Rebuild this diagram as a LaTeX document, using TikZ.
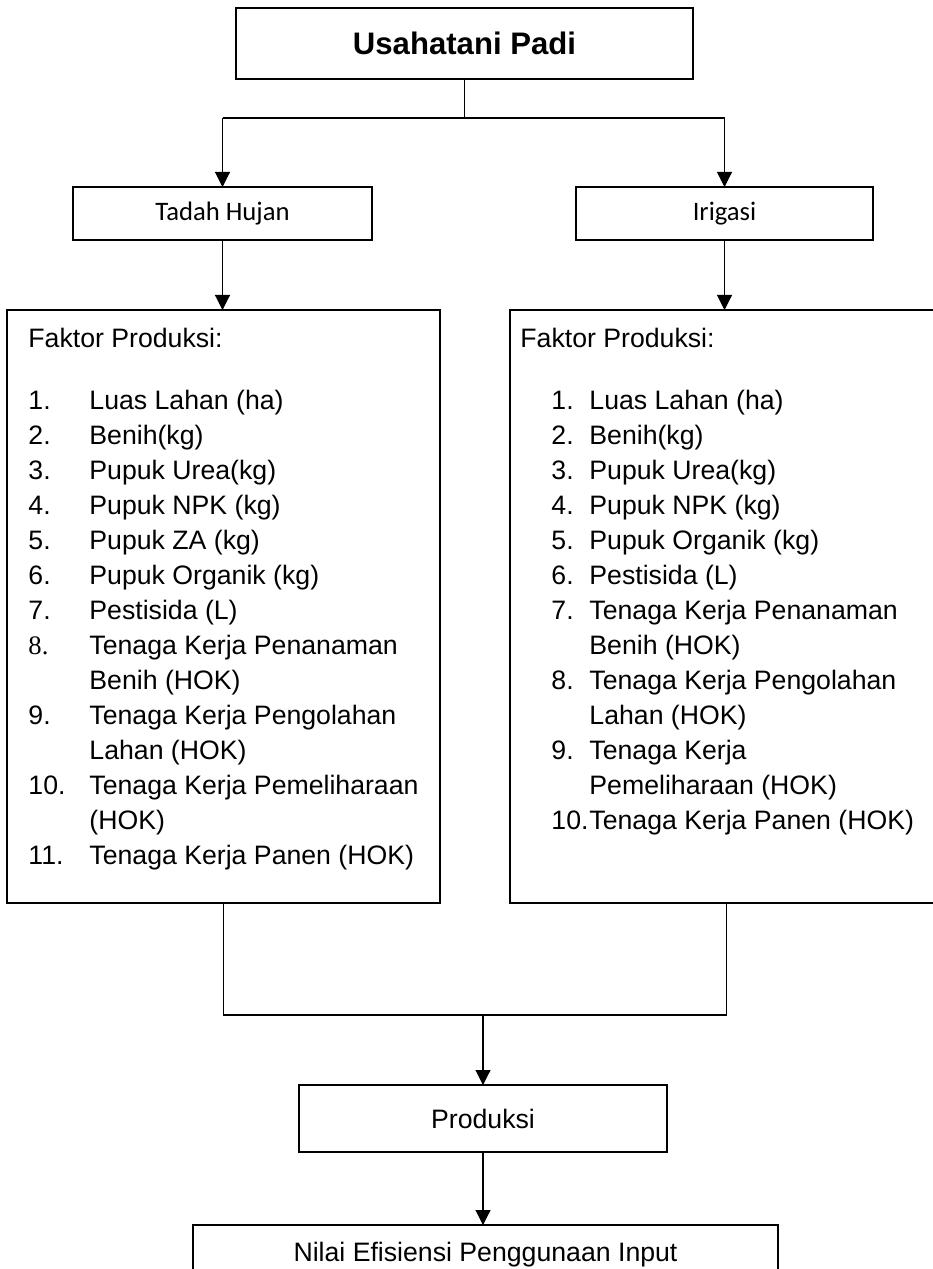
\documentclass[tikz,border=0pt]{standalone}
\usepackage{fontspec}
\setmainfont{Liberation Sans}
\newfontfamily\calibrifont{Carlito}
\newfontfamily\timesfont{Liberation Serif}
\usetikzlibrary{positioning,calc,arrows.meta}
\newdimen\px \px=0.45pt
\newcommand{\listsize}{\fontsize{12}{15.75}\selectfont}

\begin{document}
\begin{tikzpicture}[x=0.45pt,y=-0.45pt,every node/.style={font=\listsize},
				block/.style={draw,rectangle,line width=0.9pt,inner sep=0pt,outer sep=0pt},
				line/.style={line width=0.5pt},
				arrow/.style={line,-{Triangle[length=6.75pt,width=6.75pt]}}]
				\useasboundingbox (0,0) rectangle (932,1269);
				\node (usahatani) [block,line width=1.1pt,minimum width=457\px,minimum height=71\px,
					font=\bfseries\fontsize{14}{17}\selectfont] at (464.5,43.5) {Usahatani Padi};
				\node (tadah)     [block,minimum width=299\px,minimum height=53\px,font=\calibrifont\listsize] at (222.5,213.5) {Tadah Hujan};
				\node (irigasi)   [block,minimum width=297\px,minimum height=53\px,font=\calibrifont\listsize] at (724.5,213.5) {Irigasi};
				\node (faktorL)   [block,minimum width=433\px,minimum height=593\px] at (223.5,606.5) {};
				\node (faktorR)   [block,minimum width=433\px,minimum height=593\px] at (726.5,606.5) {};
				\node (produksi)  [block,minimum width=368\px,minimum height=67\px] at (483,1118.5) {Produksi};
				\node (nilai)     [block,minimum width=585\px,minimum height=60\px] at (485.5,1255) {Nilai Efisiensi Penggunaan Input};

				% daftar faktor produksi
				\node (listL) [anchor=base west,inner sep=0pt] at (28,347.5) {\begin{tabular}[t]{@{}p{61\px}@{}l@{}}
					\multicolumn{2}{@{}l@{}}{Faktor Produksi:}\\[-8\px]
					\\
					1. & Luas Lahan (ha)\\
					2. & Benih(kg)\\
					3. & Pupuk Urea(kg)\\
					4. & Pupuk NPK (kg)\\
					5. & Pupuk ZA (kg)\\
					6. & Pupuk Organik (kg)\\
					7. & Pestisida (L)\\
					{\timesfont 8.} & Tenaga Kerja Penanaman\\
					   & Benih (HOK)\\
					9. & Tenaga Kerja Pengolahan\\
					   & Lahan (HOK)\\
					10. & Tenaga Kerja Pemeliharaan\\
					    & (HOK)\\
					11. & Tenaga Kerja Panen (HOK)
				\end{tabular}};
				\node (listR) [anchor=base west,inner sep=0pt] at (520,347.5) {\begin{tabular}[t]{@{\hspace{31\px}}p{38\px}@{}l@{}}
					\multicolumn{2}{@{}l@{}}{Faktor Produksi:}\\[-8\px]
					\\
					1. & Luas Lahan (ha)\\
					2. & Benih(kg)\\
					3. & Pupuk Urea(kg)\\
					4. & Pupuk NPK (kg)\\
					5. & Pupuk Organik (kg)\\
					6. & Pestisida (L)\\
					7. & Tenaga Kerja Penanaman\\
					   & Benih (HOK)\\
					8. & Tenaga Kerja Pengolahan\\
					   & Lahan (HOK)\\
					9. & Tenaga Kerja\\
					   & Pemeliharaan (HOK)\\
					10. & Tenaga Kerja Panen (HOK)
				\end{tabular}};

				\draw[line]  (usahatani.south) -- ++(0,39) coordinate (split);
				\draw[line]  (split -| tadah) -- (split -| irigasi);
				\draw[arrow] (split -| tadah) -- (tadah.north);
				\draw[arrow] (split -| irigasi) -- (irigasi.north);
				\draw[arrow] (tadah.south) -- (tadah.south |- faktorL.north);
				\draw[arrow] (irigasi.south) -- (irigasi.south |- faktorR.north);
				\draw[line]  (faktorL.south) -- ++(0,112) coordinate (join) -| (faktorR.south);
				\draw[arrow] (join -| produksi) -- (produksi.north);
				\draw[arrow] (produksi.south) -- (produksi.south |- nilai.north);
			\end{tikzpicture}
\end{document}
